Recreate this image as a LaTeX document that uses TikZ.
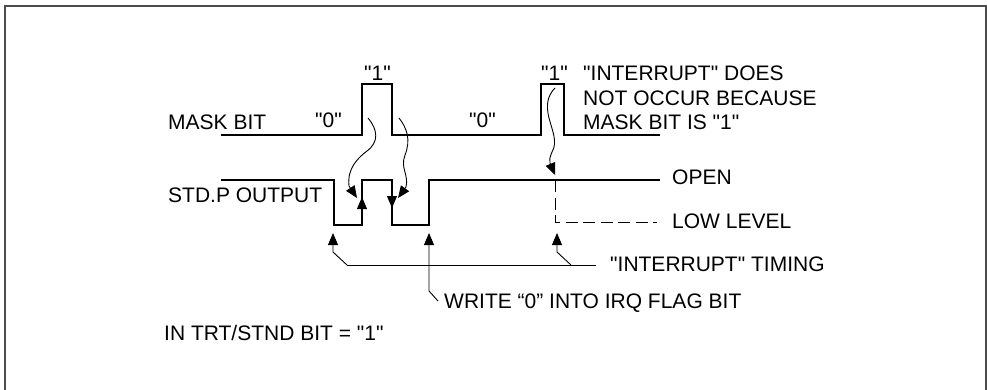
\documentclass[tikz,border=0pt]{standalone}
\usepackage{fontspec}
\setmainfont{Liberation Sans}[Ligatures=TeXOff]
\usetikzlibrary{arrows.meta}

\tikzset{
    txt/.style={inner sep=0pt,anchor=base west,font=\fontsize{21}{24}\selectfont},
    wave/.style={line width=.9pt},
    sig/.style={line width=1.3pt},
    head/.style={-{Triangle[length=12pt,width=10pt]}},
}

\begin{document}
\begin{tikzpicture}[x=1pt,y=-1pt]

    \useasboundingbox (0,0) rectangle (987,390);
    \draw[line width=1.6pt,color=black!70] (5,390) -- (5,6) -- (986,6) -- (986,390);

    % signal levels
    \coordinate (m0) at (221,135);
    \coordinate (m1) at (362,135);
    \coordinate (m2) at (362,84);
    \coordinate (m3) at (392,84);
    \coordinate (m4) at (392,135);
    \coordinate (m5) at (541,135);
    \coordinate (m6) at (541,84);
    \coordinate (m7) at (564,84);
    \coordinate (m8) at (564,135);
    \coordinate (m9) at (660,135);
    \draw[sig] (m0) -- (m1) -- (m2) -- (m3) -- (m4) -- (m5) -- (m6) -- (m7) -- (m8) -- (m9);

    \coordinate (s0) at (221,180);
    \coordinate (s1) at (334,180);
    \coordinate (s2) at (334,225);
    \coordinate (s3) at (362,225);
    \coordinate (s4) at (362,180);
    \coordinate (s5) at (392,180);
    \coordinate (s6) at (392,225);
    \coordinate (s7) at (429,225);
    \coordinate (s8) at (429,180);
    \coordinate (s9) at (660,180);
    \draw[sig] (s0) -- (s1) -- (s2) -- (s3) -- (s4) -- (s5) -- (s6) -- (s7) -- (s8) -- (s9);

    \coordinate (d0) at (555,180);
    \coordinate (d1) at (555,222);
    \coordinate (d2) at (657,222);
    \draw[sig,line width=1pt,dash pattern=on 12pt off 5.5pt] (d0) -- (d1) -- (d2);

    % edges of the std.p output
    \coordinate (e0) at (362,197);
    \coordinate (e1) at (392,196);
    \coordinate (e2) at (362,210);
    \coordinate (e3) at (392,208);
    \draw[head,wave] (e2) -- (e0);
    \draw[head,wave] (e1) -- (e3);

    % wavy arrows
    \coordinate (w0) at (368,118);
    \coordinate (w1) at (357,198);
    \coordinate (w2) at (399,118);
    \coordinate (w3) at (398,198);
    \coordinate (w4) at (555,88);
    \coordinate (w5) at (555,175);
    \draw[head,wave] (w0) .. controls (378,130) and (379,142) .. (367,151) .. controls (358,158) and (347,168) .. (349,186) -- (w1);
    \draw[head,wave] (w2) .. controls (407,128) and (411,140) .. (405,155) .. controls (400,168) and (409,175) .. (406,187) -- (w3);
    \draw[head,wave] (w4) .. controls (547,96) and (546,106) .. (549,118) .. controls (552,130) and (558,142) .. (552,152) .. controls (550,157) and (549,160) .. (550,163) -- (w5);

    % timing leaders
    \coordinate (t0) at (347,265);
    \coordinate (t1) at (596,265);
    \coordinate (t2) at (333,252);
    \coordinate (t3) at (333,233);
    \coordinate (t4) at (571,265);
    \coordinate (t5) at (557,252);
    \coordinate (t6) at (557,233);
    \coordinate (t7) at (438,301);
    \coordinate (t8) at (429,291);
    \coordinate (t9) at (429,233);
    \draw[wave] (t0) -- (t1);
    \draw[head,wave] (t0) -- (t2) -- (t3);
    \draw[head,wave] (t4) -- (t5) -- (t6);
    \draw[head,wave] (t7) -- (t8) -- (t9);

    \node[txt] (maskbit)   at (168,130) {MASK BIT};
    \node[txt] (stdp)      at (168,203) {STD.P OUTPUT} ;
    \node[txt] (zero1)     at (315,128) {"0"};
    \node[txt] (one1)      at (364,81)  {"1"};
    \node[txt] (zero2)     at (469,128) {"0"};
    \node[txt] (one2)      at (541,81)  {"1"};
    \node[txt] (int1)      at (583,81)  {"INTERRUPT" DOES};
    \node[txt] (int2)      at (583,105.5) {NOT OCCUR BECAUSE};
    \node[txt] (int3)      at (583,130) {MASK BIT IS "1"};
    \node[txt] (open)      at (672,185) {OPEN};
    \node[txt] (lowlevel)  at (672,228) {LOW LEVEL};
    \node[txt] (timing)    at (610,271) {"INTERRUPT" TIMING};
    \node[txt] (write)     at (444,308) {WRITE “0” INTO IRQ FLAG BIT};
    \node[txt] (trt)       at (164,340) {IN TRT/STND BIT = "1"};

\end{tikzpicture}
\end{document}
